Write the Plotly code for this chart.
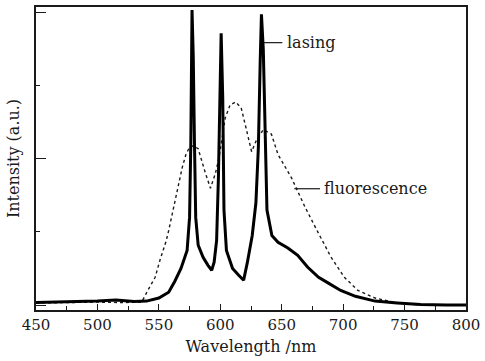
import plotly.graph_objects as go

# Lasing spectrum (solid)
las_wl = [450, 480, 500, 515, 530, 540, 550, 558, 563, 568, 573, 575, 576, 577, 578, 579, 580,
          582, 586, 590, 593, 595, 597, 598.5, 600, 600.7, 602, 603, 605, 610, 615, 619, 622,
          626, 629, 631, 632.5, 633.5, 635, 636.5, 638, 642, 647, 655, 663, 671, 680, 688,
          698, 710, 726, 744, 763, 784, 800]
las_I = [0.017, 0.02, 0.027, 0.034, 0.024, 0.027, 0.048, 0.088, 0.163, 0.25, 0.374, 0.60, 1.10,
         2.02, 1.70, 1.10, 0.60, 0.41, 0.327, 0.272, 0.238, 0.293, 0.44, 0.88, 1.67, 1.86, 1.42,
         0.65, 0.374, 0.25, 0.204, 0.17, 0.29, 0.476, 0.70, 1.08, 1.67, 1.99, 1.75, 1.10, 0.65,
         0.476, 0.43, 0.39, 0.34, 0.26, 0.19, 0.15, 0.10, 0.06, 0.027, 0.014, 0.003, 0.0, 0.0]

# Fluorescence spectrum (dashed)
flu_wl = [450, 500, 520, 536, 541, 547, 551, 556, 558, 566, 569, 572, 575, 578, 582, 588, 592,
          596, 599, 604, 608, 612.5, 617, 621, 625.5, 629, 635, 641.6, 647, 658, 669, 680, 690,
          701, 712, 726, 744, 763, 785, 800]
flu_I = [0.014, 0.02, 0.017, 0.02, 0.10, 0.19, 0.31, 0.44, 0.51, 0.83, 0.94, 1.03, 1.08, 1.09,
         1.07, 0.90, 0.80, 0.90, 1.01, 1.28, 1.37, 1.39, 1.35, 1.21, 1.05, 1.12, 1.20, 1.17, 1.03,
         0.87, 0.67, 0.49, 0.33, 0.19, 0.10, 0.048, 0.014, 0.0, 0.0, 0.0]

x_ticks = [450, 500, 550, 600, 650, 700, 750, 800]

FONT = "DejaVu Serif"
INK = "#1a1a1a"

fig = go.Figure()
fig.add_trace(go.Scatter(x=flu_wl, y=flu_I, mode="lines",
                         line=dict(color=INK, width=1.4, dash="3px,3px")))
fig.add_trace(go.Scatter(x=las_wl, y=las_I, mode="lines",
                         line=dict(color="black", width=3)))

# label leader lines
fig.add_shape(type="line", x0=635.5, x1=650.5, y0=1.796, y1=1.796,
              line=dict(color=INK, width=1.2))
fig.add_shape(type="line", x0=660.2, x1=681.2, y0=0.796, y1=0.796,
              line=dict(color=INK, width=1.2))
fig.add_annotation(x=652.5, y=1.80, text="lasing", showarrow=False, xanchor="left",
                   font=dict(family=FONT, size=16, color=INK))
fig.add_annotation(x=682.5, y=0.80, text="fluorescence", showarrow=False, xanchor="left",
                   font=dict(family=FONT, size=16, color=INK))

fig.update_layout(
    width=485, height=361,
    margin=dict(l=36, r=16, t=5, b=51),
    paper_bgcolor="white", plot_bgcolor="white",
    showlegend=False,
    font=dict(family=FONT, color=INK),
)
fig.update_xaxes(
    range=[450, 800], tickvals=x_ticks, ticktext=[str(v) for v in x_ticks],
    ticks="inside", ticklen=6, tickwidth=1.2, tickcolor=INK,
    minor=dict(ticks="inside", ticklen=4, dtick=25, tick0=475, tickcolor=INK, tickwidth=1.2),
    showline=True, linecolor=INK, linewidth=1.5, mirror=True,
    showgrid=False, zeroline=False,
    tickfont=dict(family=FONT, size=15, color=INK),
    title=dict(text="Wavelength /nm", font=dict(family=FONT, size=16, color=INK), standoff=8),
)
fig.update_yaxes(
    range=[-0.034, 2.04], tickvals=[0, 1, 2], showticklabels=False,
    ticks="inside", ticklen=10, tickwidth=1.2, tickcolor=INK,
    minor=dict(ticks="inside", ticklen=4, tickvals=[0.5, 1.5], tickcolor=INK, tickwidth=1.2),
    showline=True, linecolor=INK, linewidth=1.5, mirror=True,
    showgrid=False, zeroline=False,
    title=dict(text="Intensity (a.u.)", font=dict(family=FONT, size=16, color=INK), standoff=11),
)

fig.write_html("out.html")
